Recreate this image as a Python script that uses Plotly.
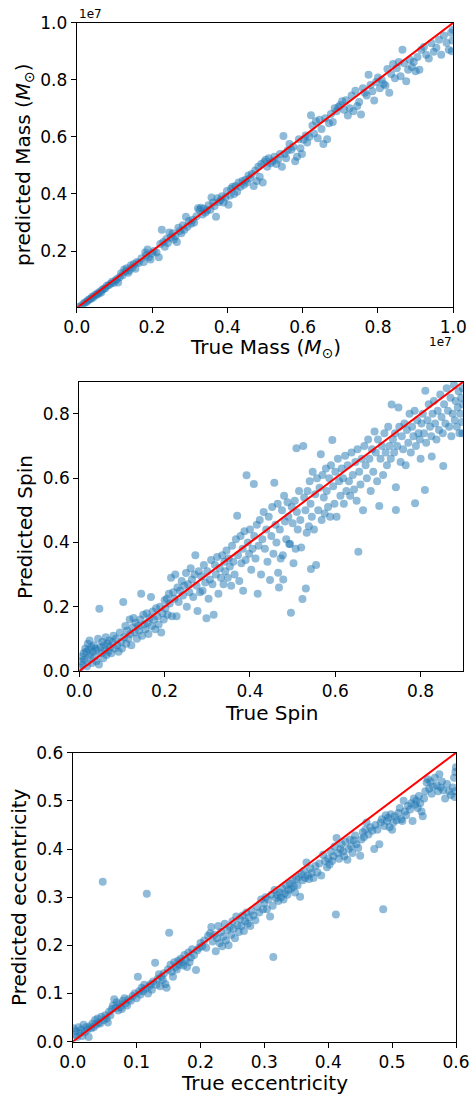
import plotly.graph_objects as go

# ---------------- Panel 1: Mass (units of 1e7 Msun) ----------------
mass_true = [
    0.005, 0.012, 0.018, 0.022, 0.027, 0.030, 0.034, 0.038, 0.041, 0.044,
    0.048, 0.052, 0.055, 0.058, 0.062, 0.065, 0.068, 0.072, 0.076, 0.080,
    0.085, 0.090, 0.094, 0.098, 0.103,
    0.107, 0.110, 0.114, 0.118, 0.122, 0.126, 0.130, 0.133, 0.137, 0.140,
    0.144, 0.148, 0.152, 0.156, 0.160, 0.165, 0.172, 0.178, 0.182, 0.185,
    0.188, 0.192, 0.196, 0.200,
    0.205, 0.212, 0.218, 0.222, 0.226, 0.230, 0.234, 0.238, 0.242, 0.246,
    0.250, 0.255, 0.258, 0.262, 0.266, 0.270, 0.274, 0.278, 0.282, 0.286,
    0.290, 0.294, 0.298,
    0.304, 0.308, 0.312, 0.318, 0.322, 0.326, 0.330, 0.334, 0.338, 0.342,
    0.346, 0.350, 0.355, 0.358, 0.362, 0.366, 0.370, 0.374, 0.378, 0.382,
    0.386, 0.390, 0.395, 0.399,
    0.403, 0.407, 0.410, 0.414, 0.418, 0.422, 0.426, 0.430, 0.435, 0.440,
    0.444, 0.448, 0.452, 0.456, 0.460, 0.465, 0.470, 0.474, 0.478, 0.482,
    0.486, 0.490, 0.494, 0.498,
    0.502, 0.506, 0.510, 0.515, 0.520, 0.525, 0.530, 0.535, 0.540, 0.545,
    0.549, 0.552, 0.556, 0.560, 0.565, 0.570, 0.575, 0.580, 0.585, 0.590,
    0.594, 0.598,
    0.603, 0.608, 0.612, 0.618, 0.622, 0.626, 0.630, 0.635, 0.640, 0.645,
    0.650, 0.655, 0.660, 0.665, 0.670, 0.675, 0.680, 0.685, 0.690, 0.695,
    0.700,
    0.705, 0.710, 0.715, 0.720, 0.725, 0.730, 0.735, 0.740, 0.745, 0.750,
    0.755, 0.760, 0.765, 0.770, 0.775, 0.780, 0.785, 0.790, 0.795, 0.800,
    0.805, 0.810, 0.815, 0.820, 0.825, 0.830, 0.835, 0.840, 0.845, 0.850,
    0.855, 0.860, 0.865, 0.870, 0.875, 0.880, 0.885, 0.890, 0.895, 0.900,
    0.905, 0.910, 0.915, 0.922, 0.928, 0.935, 0.942, 0.948, 0.955, 0.962,
    0.968, 0.975, 0.982, 0.988, 0.994, 0.998, 0.999, 0.996,
]
mass_pred = [
    0.004, 0.008, 0.015, 0.020, 0.022, 0.028, 0.031, 0.033, 0.040, 0.037,
    0.045, 0.046, 0.052, 0.050, 0.058, 0.055, 0.064, 0.068, 0.070, 0.078,
    0.080, 0.085, 0.092, 0.088, 0.097,
    0.102, 0.090, 0.108, 0.122, 0.115, 0.135, 0.128, 0.140, 0.124, 0.132,
    0.150, 0.142, 0.155, 0.138, 0.162, 0.158, 0.175, 0.162, 0.195, 0.185,
    0.205, 0.178, 0.170, 0.192,
    0.200, 0.195, 0.178, 0.225, 0.275, 0.232, 0.215, 0.242, 0.228, 0.265,
    0.248, 0.262, 0.240, 0.252, 0.232, 0.282, 0.270, 0.262, 0.290, 0.275,
    0.320, 0.285, 0.305,
    0.296, 0.310, 0.300, 0.322, 0.350, 0.345, 0.352, 0.328, 0.348, 0.335,
    0.342, 0.360, 0.345, 0.388, 0.370, 0.358, 0.320, 0.385, 0.372, 0.378,
    0.392, 0.370, 0.388, 0.410,
    0.362, 0.395, 0.418, 0.425, 0.400, 0.428, 0.408, 0.440, 0.425, 0.445,
    0.432, 0.450, 0.440, 0.465, 0.455, 0.470, 0.428, 0.482, 0.445, 0.495,
    0.460, 0.505, 0.440, 0.512,
    0.520, 0.495, 0.525, 0.508, 0.515, 0.530, 0.505, 0.520, 0.540, 0.495,
    0.603, 0.540, 0.525, 0.552, 0.575, 0.555, 0.565, 0.515, 0.530, 0.592,
    0.560, 0.540,
    0.590, 0.605, 0.580, 0.600, 0.676, 0.640, 0.612, 0.655, 0.595, 0.660,
    0.628, 0.575, 0.665, 0.592, 0.648, 0.680, 0.652, 0.700, 0.690, 0.705,
    0.712,
    0.725, 0.695, 0.728, 0.675, 0.700, 0.745, 0.690, 0.762, 0.708, 0.722,
    0.678, 0.770, 0.755, 0.745, 0.818, 0.782, 0.760, 0.727, 0.792, 0.808,
    0.770, 0.800, 0.785, 0.780, 0.838, 0.755, 0.820, 0.855, 0.805, 0.840,
    0.862, 0.812, 0.905, 0.858, 0.795, 0.835, 0.870, 0.845, 0.862, 0.830,
    0.880, 0.835, 0.905, 0.915, 0.888, 0.875, 0.928, 0.898, 0.912, 0.940,
    0.888, 0.955, 0.930, 0.905, 0.965, 0.938, 0.975, 0.900,
]

# ---------------- Panel 2: Spin ----------------
spin_true = [
    0.002, 0.004, 0.006, 0.008, 0.010, 0.012, 0.014, 0.016, 0.018, 0.020,
    0.020, 0.022, 0.024, 0.026, 0.028, 0.030, 0.032, 0.034, 0.036, 0.038,
    0.040, 0.042, 0.044, 0.046, 0.047, 0.050, 0.052, 0.054, 0.056, 0.058,
    0.060, 0.062, 0.064, 0.066, 0.068, 0.070, 0.072, 0.075, 0.078, 0.080,
    0.083, 0.086, 0.089, 0.092, 0.095, 0.098, 0.100,
    0.103, 0.105, 0.108, 0.110, 0.112, 0.115, 0.118, 0.120, 0.122, 0.125,
    0.127, 0.130, 0.132, 0.135, 0.138, 0.140, 0.143, 0.145, 0.147, 0.150,
    0.152, 0.155, 0.158, 0.160, 0.162, 0.165, 0.168, 0.170, 0.172, 0.175,
    0.178, 0.180, 0.183, 0.186, 0.189, 0.192, 0.195, 0.198, 0.200, 0.202,
    0.205, 0.207, 0.210, 0.212, 0.215, 0.217, 0.220, 0.223, 0.225, 0.228,
    0.230, 0.233, 0.236, 0.240, 0.243, 0.246, 0.250, 0.252, 0.255, 0.258,
    0.261, 0.264, 0.267, 0.270, 0.272, 0.275, 0.277, 0.280, 0.283, 0.286,
    0.289, 0.292, 0.295, 0.298, 0.300, 0.303, 0.306, 0.309, 0.312, 0.315,
    0.318, 0.320, 0.323, 0.326, 0.329, 0.332, 0.335, 0.338, 0.340, 0.342,
    0.345, 0.348, 0.350, 0.353, 0.356, 0.358, 0.361, 0.364, 0.367, 0.370,
    0.372, 0.375, 0.378, 0.380, 0.383, 0.384, 0.387, 0.390, 0.392, 0.395,
    0.398, 0.400, 0.403, 0.406, 0.409, 0.410, 0.413, 0.416, 0.418, 0.420,
    0.423, 0.426, 0.429, 0.432, 0.435, 0.438, 0.441, 0.444, 0.447, 0.450,
    0.452, 0.455, 0.457, 0.460, 0.462, 0.465, 0.466, 0.468, 0.470, 0.472,
    0.475, 0.477, 0.478, 0.480, 0.482, 0.485, 0.488, 0.490, 0.492, 0.494,
    0.496, 0.498, 0.500, 0.502, 0.505, 0.507, 0.509, 0.510, 0.512, 0.515,
    0.518, 0.520, 0.523, 0.525, 0.527, 0.530, 0.531, 0.533, 0.535, 0.538,
    0.540, 0.542, 0.543, 0.545, 0.547, 0.550, 0.553, 0.555, 0.557, 0.560,
    0.563, 0.566, 0.568, 0.570, 0.573, 0.575, 0.578, 0.580, 0.583, 0.586,
    0.588, 0.590, 0.593, 0.595, 0.598, 0.600, 0.603, 0.606, 0.609, 0.612,
    0.615, 0.618, 0.620, 0.623, 0.626, 0.629, 0.632, 0.635, 0.638, 0.641,
    0.644, 0.647, 0.650, 0.652, 0.654, 0.656, 0.659, 0.662, 0.665, 0.668,
    0.671, 0.674, 0.677, 0.680, 0.683, 0.686, 0.689, 0.692, 0.695, 0.698,
    0.700, 0.703, 0.706, 0.709, 0.712, 0.715, 0.718, 0.721, 0.724, 0.727,
    0.730, 0.732, 0.735, 0.738, 0.740, 0.742, 0.742, 0.745, 0.748, 0.750,
    0.753, 0.756, 0.759, 0.762, 0.765, 0.768, 0.771, 0.774, 0.777, 0.780,
    0.783, 0.786, 0.787, 0.789, 0.792, 0.795, 0.798, 0.800, 0.802, 0.805,
    0.808, 0.810, 0.811, 0.813, 0.816, 0.819, 0.822, 0.825, 0.826, 0.828,
    0.831, 0.834, 0.837, 0.840, 0.843, 0.846, 0.849, 0.852, 0.853, 0.855,
    0.858, 0.861, 0.864, 0.867, 0.870, 0.872, 0.875, 0.878, 0.880, 0.882,
    0.885, 0.887, 0.889, 0.891, 0.893, 0.895, 0.897, 0.899, 0.899, 0.898,
]
spin_pred = [
    0.010, 0.030, 0.045, 0.020, 0.055, 0.035, 0.070, 0.060, 0.015, 0.085,
    0.040, 0.065, 0.095, 0.050, 0.075, 0.025, 0.060, 0.080, 0.045, 0.070,
    0.030, 0.065, 0.100, 0.020, 0.194, 0.075, 0.055, 0.090, 0.040, 0.080,
    0.065, 0.105, 0.050, 0.085, 0.060, 0.095, 0.075, 0.055, 0.090, 0.110,
    0.070, 0.100, 0.080, 0.060, 0.120, 0.090, 0.070,
    0.215, 0.105, 0.140, 0.085, 0.125, 0.100, 0.160, 0.115, 0.080, 0.135,
    0.165, 0.120, 0.150, 0.100, 0.140, 0.125, 0.160, 0.240, 0.110, 0.175,
    0.145, 0.130, 0.180, 0.150, 0.115, 0.165, 0.230, 0.140, 0.185, 0.160,
    0.130, 0.195, 0.170, 0.145, 0.200, 0.120, 0.180, 0.160, 0.220, 0.195,
    0.225, 0.175, 0.240, 0.210, 0.290, 0.170, 0.245, 0.225, 0.300, 0.170,
    0.260, 0.215, 0.250, 0.280, 0.235, 0.265, 0.305, 0.200, 0.270, 0.245,
    0.320, 0.285, 0.230, 0.300, 0.360, 0.265, 0.187, 0.310, 0.245, 0.295,
    0.250, 0.330, 0.275, 0.164, 0.310, 0.225, 0.285, 0.345, 0.270, 0.175,
    0.330, 0.300, 0.355, 0.240, 0.320, 0.290, 0.360, 0.270, 0.340, 0.310,
    0.375, 0.290, 0.350, 0.325, 0.265, 0.390, 0.340, 0.300, 0.410, 0.483,
    0.360, 0.280, 0.420, 0.335, 0.380, 0.250, 0.435, 0.345, 0.609, 0.400,
    0.365, 0.440, 0.315, 0.380, 0.582, 0.420, 0.350, 0.455, 0.240, 0.390,
    0.470, 0.300, 0.410, 0.495, 0.380, 0.440, 0.340, 0.480, 0.283, 0.420,
    0.510, 0.365, 0.586, 0.455, 0.400, 0.520, 0.306, 0.260, 0.440, 0.350,
    0.500, 0.360, 0.285, 0.545, 0.465, 0.410, 0.525, 0.480, 0.395, 0.395,
    0.181, 0.510, 0.460, 0.335, 0.530, 0.380, 0.693, 0.495, 0.440, 0.560,
    0.470, 0.384, 0.224, 0.700, 0.540, 0.500, 0.257, 0.430, 0.560, 0.450,
    0.590, 0.520, 0.317, 0.480, 0.620, 0.440, 0.550, 0.330, 0.600, 0.500,
    0.570, 0.674, 0.470, 0.610, 0.540, 0.490, 0.630, 0.560, 0.510, 0.600,
    0.480, 0.640, 0.719, 0.575, 0.520, 0.620, 0.480, 0.660, 0.590, 0.545,
    0.630, 0.600, 0.520, 0.670, 0.560, 0.640, 0.590, 0.545, 0.680, 0.610,
    0.565, 0.650, 0.530, 0.690, 0.371, 0.620, 0.580, 0.660, 0.500, 0.700,
    0.640, 0.600, 0.720, 0.660, 0.560, 0.690, 0.620, 0.745, 0.680, 0.590,
    0.720, 0.513, 0.660, 0.700, 0.610, 0.740, 0.680, 0.640, 0.760, 0.700,
    0.660, 0.829, 0.720, 0.680, 0.740, 0.501, 0.572, 0.700, 0.820, 0.760,
    0.650, 0.730, 0.690, 0.770, 0.640, 0.750, 0.710, 0.800, 0.680, 0.760,
    0.730, 0.810, 0.522, 0.700, 0.780, 0.740, 0.720, 0.660, 0.770, 0.800,
    0.740, 0.563, 0.872, 0.710, 0.780, 0.830, 0.760, 0.730, 0.667, 0.800,
    0.840, 0.770, 0.720, 0.810, 0.750, 0.860, 0.790, 0.740, 0.638, 0.830,
    0.770, 0.880, 0.810, 0.760, 0.850, 0.730, 0.800, 0.890, 0.780, 0.840,
    0.760, 0.820, 0.870, 0.740, 0.800, 0.850, 0.775, 0.830, 0.880, 0.740,
]

# ---------------- Panel 3: Eccentricity ----------------
ecc_true = [
    0.001, 0.003, 0.005, 0.007, 0.009, 0.011, 0.013, 0.015, 0.017, 0.019,
    0.021, 0.023, 0.025, 0.027, 0.029, 0.031, 0.033, 0.035, 0.037, 0.039,
    0.041, 0.043, 0.045, 0.047, 0.049, 0.051, 0.053, 0.055, 0.057, 0.059,
    0.061, 0.063, 0.065, 0.067, 0.069, 0.071, 0.073, 0.075, 0.077, 0.079,
    0.081, 0.083, 0.085, 0.088, 0.091, 0.094, 0.097, 0.100, 0.102,
    0.104, 0.106, 0.108, 0.110, 0.112, 0.114, 0.116, 0.118, 0.120, 0.122,
    0.124, 0.126, 0.129, 0.131, 0.133, 0.135, 0.137, 0.139, 0.141, 0.143,
    0.145, 0.147, 0.149, 0.151, 0.153, 0.155, 0.157, 0.159, 0.161, 0.163,
    0.165, 0.167, 0.169, 0.171, 0.173, 0.175, 0.177, 0.179, 0.181, 0.183,
    0.185, 0.187, 0.190, 0.193, 0.195, 0.198,
    0.200, 0.203, 0.206, 0.209, 0.212, 0.215, 0.217, 0.219, 0.222, 0.224,
    0.226, 0.228, 0.230, 0.232, 0.234, 0.236, 0.238, 0.240, 0.242, 0.244,
    0.246, 0.248, 0.250, 0.252, 0.254, 0.256, 0.258, 0.260, 0.262, 0.264,
    0.266, 0.268, 0.270, 0.272, 0.274, 0.276, 0.278, 0.280, 0.283, 0.286,
    0.289, 0.292, 0.295, 0.298,
    0.300, 0.302, 0.304, 0.306, 0.309, 0.311, 0.313, 0.314, 0.316, 0.318,
    0.320, 0.322, 0.324, 0.326, 0.328, 0.330, 0.332, 0.334, 0.336, 0.338,
    0.340, 0.342, 0.344, 0.346, 0.348, 0.350, 0.352, 0.354, 0.356, 0.358,
    0.360, 0.362, 0.364, 0.366, 0.368, 0.370, 0.372, 0.374, 0.377, 0.380,
    0.383, 0.386, 0.389, 0.392, 0.395, 0.398,
    0.400, 0.402, 0.404, 0.406, 0.408, 0.410, 0.412, 0.413, 0.415, 0.417,
    0.419, 0.421, 0.423, 0.425, 0.427, 0.430, 0.432, 0.434, 0.436, 0.438,
    0.440, 0.442, 0.444, 0.447, 0.450, 0.452, 0.454, 0.456, 0.458, 0.460,
    0.463, 0.466, 0.469, 0.472, 0.474, 0.477, 0.480, 0.482, 0.484, 0.486,
    0.488, 0.490, 0.492, 0.494, 0.496, 0.498,
    0.500, 0.502, 0.504, 0.507, 0.510, 0.512, 0.514, 0.516, 0.518, 0.520,
    0.522, 0.525, 0.528, 0.530, 0.532, 0.534, 0.536, 0.538, 0.540, 0.542,
    0.544, 0.546, 0.548, 0.550, 0.552, 0.554, 0.556, 0.558, 0.560, 0.562,
    0.564, 0.567, 0.570, 0.572, 0.574, 0.576, 0.578, 0.580, 0.583, 0.586,
    0.589, 0.592, 0.595, 0.597, 0.599, 0.599, 0.600, 0.598,
]
ecc_pred = [
    0.028, 0.015, 0.022, 0.010, 0.030, 0.018, 0.025, 0.012, 0.035, 0.020,
    0.030, 0.025, 0.010, 0.032, 0.028, 0.038, 0.030, 0.045, 0.035, 0.048,
    0.040, 0.038, 0.052, 0.332, 0.045, 0.055, 0.048, 0.040, 0.062, 0.055,
    0.068, 0.075, 0.088, 0.070, 0.082, 0.065, 0.078, 0.072, 0.068, 0.085,
    0.090, 0.080, 0.075, 0.088, 0.085, 0.095, 0.100, 0.090, 0.135,
    0.105, 0.098, 0.112, 0.105, 0.118, 0.110, 0.307, 0.100, 0.115, 0.120,
    0.108, 0.125, 0.164, 0.118, 0.130, 0.140, 0.115, 0.135, 0.128, 0.142,
    0.120, 0.112, 0.150, 0.226, 0.160, 0.145, 0.135, 0.165, 0.155, 0.150,
    0.168, 0.160, 0.172, 0.165, 0.158, 0.180, 0.170, 0.155, 0.185, 0.165,
    0.175, 0.192, 0.180, 0.149, 0.190, 0.195,
    0.205, 0.198, 0.210, 0.195, 0.220, 0.225, 0.238, 0.208, 0.222, 0.188,
    0.215, 0.240, 0.205, 0.228, 0.198, 0.218, 0.245, 0.210, 0.232, 0.200,
    0.238, 0.222, 0.250, 0.235, 0.215, 0.260, 0.242, 0.228, 0.255, 0.240,
    0.262, 0.230, 0.250, 0.268, 0.245, 0.258, 0.240, 0.272, 0.262, 0.252,
    0.280, 0.268, 0.295, 0.275,
    0.288, 0.300, 0.275, 0.295, 0.260, 0.305, 0.282, 0.176, 0.315, 0.298,
    0.305, 0.292, 0.310, 0.300, 0.318, 0.295, 0.308, 0.325, 0.305, 0.315,
    0.328, 0.318, 0.335, 0.322, 0.310, 0.338, 0.325, 0.342, 0.301, 0.348,
    0.335, 0.355, 0.340, 0.372, 0.345, 0.338, 0.360, 0.350, 0.340, 0.365,
    0.352, 0.370, 0.345, 0.388, 0.375, 0.362,
    0.380, 0.368, 0.395, 0.375, 0.385, 0.405, 0.264, 0.423, 0.392, 0.380,
    0.400, 0.410, 0.395, 0.385, 0.415, 0.378, 0.400, 0.420, 0.405, 0.392,
    0.418, 0.428, 0.410, 0.402, 0.386, 0.420, 0.435, 0.425, 0.440, 0.455,
    0.430, 0.445, 0.438, 0.400, 0.450, 0.440, 0.410, 0.455, 0.462, 0.275,
    0.448, 0.470, 0.458, 0.465, 0.445, 0.472,
    0.440, 0.455, 0.468, 0.460, 0.475, 0.485, 0.462, 0.458, 0.500, 0.478,
    0.470, 0.490, 0.482, 0.495, 0.458, 0.505, 0.492, 0.500, 0.485, 0.510,
    0.495, 0.478, 0.468, 0.505, 0.520, 0.538, 0.545, 0.525, 0.540, 0.515,
    0.530, 0.548, 0.532, 0.520, 0.555, 0.528, 0.540, 0.522, 0.505, 0.535,
    0.520, 0.512, 0.528, 0.548, 0.560, 0.520, 0.570, 0.508,
]

mass_range = [0.0, 1.0]
spin_range = [0.0, 0.9]
ecc_range = [0.0, 0.6]

W, H = 471, 1096
FONT = "DejaVu Sans"
BLUE = "rgba(31,119,180,0.5)"


def px_x(p):
    return p / W


def px_y(p):
    return 1 - p / H


fig = go.Figure()

panels = [
    ("x", "y", mass_true, mass_pred, mass_range),
    ("x2", "y2", spin_true, spin_pred, spin_range),
    ("x3", "y3", ecc_true, ecc_pred, ecc_range),
]
for xa, ya, xt, yp, rng in panels:
    fig.add_trace(go.Scatter(
        x=xt, y=yp, mode="markers", xaxis=xa, yaxis=ya,
        marker=dict(size=8, color=BLUE, line=dict(width=0)),
        showlegend=False, hoverinfo="x+y", cliponaxis=True))
    fig.add_trace(go.Scatter(
        x=rng, y=rng, mode="lines", xaxis=xa, yaxis=ya,
        line=dict(color="red", width=2), showlegend=False))

axis_common = dict(
    showline=True, linecolor="black", linewidth=1.1, mirror=True,
    ticks="outside", ticklen=5, tickwidth=1.1, tickcolor="black",
    showgrid=False, zeroline=False, automargin=False,
    tickfont=dict(family=FONT, size=17, color="black"),
)

fig.update_layout(
    template="none",
    width=W, height=H,
    margin=dict(l=0, r=0, t=0, b=0, pad=0),
    paper_bgcolor="white", plot_bgcolor="white",
    font=dict(family=FONT, color="black"),
    xaxis=dict(domain=[px_x(76.7), px_x(453.3)], range=[0, 1.0], anchor="y",
               tickvals=[0, 0.2, 0.4, 0.6, 0.8, 1.0],
               ticktext=["0.0", "0.2", "0.4", "0.6", "0.8", "1.0"], **axis_common),
    yaxis=dict(domain=[px_y(306.7), px_y(22.7)], range=[0.005, 1.0], anchor="x",
               tickvals=[0.2, 0.4, 0.6, 0.8, 1.0],
               ticktext=["0.2", "0.4", "0.6", "0.8", "1.0"], **axis_common),
    xaxis2=dict(domain=[px_x(79.3), px_x(463.3)], range=[0, 0.9], anchor="y2",
                tickvals=[0, 0.2, 0.4, 0.6, 0.8],
                ticktext=["0.0", "0.2", "0.4", "0.6", "0.8"], **axis_common),
    yaxis2=dict(domain=[px_y(671), px_y(381.7)], range=[0, 0.9], anchor="x2",
                tickvals=[0, 0.2, 0.4, 0.6, 0.8],
                ticktext=["0.0", "0.2", "0.4", "0.6", "0.8"], **axis_common),
    xaxis3=dict(domain=[px_x(72.7), px_x(456)], range=[0, 0.6], anchor="y3",
                tickvals=[0, 0.1, 0.2, 0.3, 0.4, 0.5, 0.6],
                ticktext=["0.0", "0.1", "0.2", "0.3", "0.4", "0.5", "0.6"], **axis_common),
    yaxis3=dict(domain=[px_y(1041.7), px_y(752.7)], range=[0, 0.6], anchor="x3",
                tickvals=[0, 0.1, 0.2, 0.3, 0.4, 0.5, 0.6],
                ticktext=["0.0", "0.1", "0.2", "0.3", "0.4", "0.5", "0.6"], **axis_common),
)

TITLE = dict(family=FONT, size=20, color="black")
annots = [
    ("True Mass (<i>M</i><sub>⊙</sub>)", 265, 348, 0, TITLE),
    ("predicted Mass (<i>M</i><sub>⊙</sub>)", 24, 165, -90, TITLE),
    ("True Spin", 271, 713, 0, TITLE),
    ("Predicted Spin", 25, 527, -90, TITLE),
    ("True eccentricity", 264, 1083, 0, TITLE),
    ("Predicted eccentricity", 19, 897, -90, TITLE),
    ("1e7", 90, 14, 0, dict(family=FONT, size=12, color="black")),
    ("1e7", 440, 342, 0, dict(family=FONT, size=12, color="black")),
]
for text, x, y, ang, f in annots:
    fig.add_annotation(text=text, x=px_x(x), y=px_y(y), xref="paper", yref="paper",
                       showarrow=False, textangle=ang, font=f,
                       xanchor="center", yanchor="middle")

fig.write_html(
    "out.html",
    config={"displayModeBar": False},
    post_script="document.body.style.margin='0';document.body.style.overflow='hidden';",
)
